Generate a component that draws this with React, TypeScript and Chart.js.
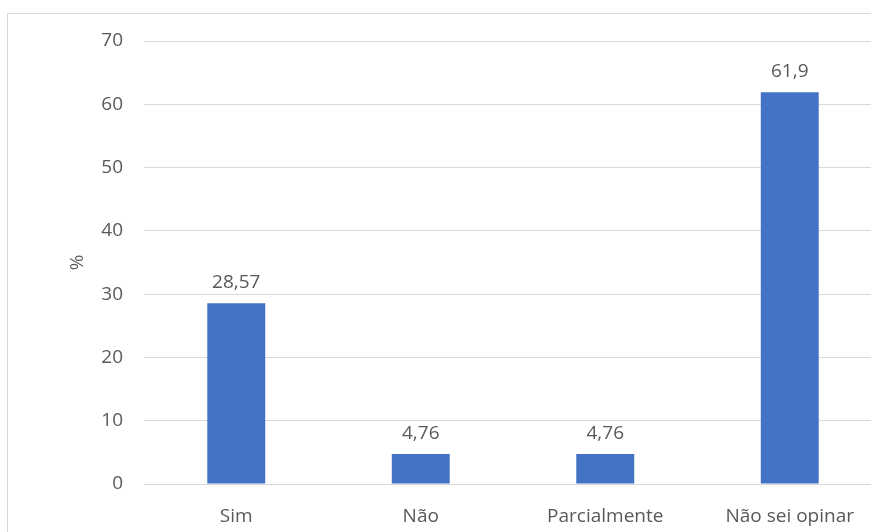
import React, { useEffect, useRef } from "react";
import { Chart, registerables } from "chart.js";

Chart.register(...registerables);

const categories = ["Sim", "Não", "Parcialmente", "Não sei opinar"];
const values = [28.57, 4.76, 4.76, 61.9];
const valueLabels = ["28,57", "4,76", "4,76", "61,9"];
const yTitle = "%";

const FONT = "'Open Sans', 'Noto Sans', sans-serif";
const TEXT = "#595959";
const FS = 19;

export default function App() {
  const ref = useRef<HTMLCanvasElement | null>(null);

  useEffect(() => {
    if (!ref.current) return;
    const labelsPlugin = {
      id: "valueLabels",
      afterDatasetsDraw(chart: any) {
        const ctx = chart.ctx;
        const meta = chart.getDatasetMeta(0);
        ctx.save();
        ctx.fillStyle = TEXT;
        ctx.font = `${FS}px ${FONT}`;
        ctx.textAlign = "center";
        ctx.textBaseline = "alphabetic";
        meta.data.forEach((bar: any, i: number) => {
          ctx.fillText(valueLabels[i], bar.x, bar.y - 15);
        });
        // y axis title
        const ca = chart.chartArea;
        ctx.translate(78, (ca.top + ca.bottom) / 2);
        ctx.rotate(-Math.PI / 2);
        ctx.textBaseline = "middle";
        ctx.fillText(yTitle, 0, 0);
        ctx.restore();
      },
    };

    const chart = new Chart(ref.current, {
      type: "bar",
      data: {
        labels: categories,
        datasets: [
          {
            data: values,
            backgroundColor: "#4472C4",
            barPercentage: 0.628,
            categoryPercentage: 0.5,
          },
        ],
      },
      options: {
        animation: false,
        responsive: false,
        maintainAspectRatio: false,
        layout: { padding: { left: 0, top: 41, right: 18, bottom: 0 } },
        plugins: { legend: { display: false }, tooltip: { enabled: false } },
        scales: {
          x: {
            grid: { display: false },
            border: { display: true, color: "#d9d9d9", width: 1 },
            ticks: { color: TEXT, font: { family: FONT, size: FS }, padding: 13 },
            afterFit: (s: any) => {
              s.height = 48;
            },
          },
          y: {
            min: 0,
            max: 70,
            ticks: { stepSize: 10, color: TEXT, font: { family: FONT, size: FS }, padding: 21 },
            grid: { color: "#d9d9d9", drawTicks: false, lineWidth: 1 },
            border: { display: false },
            afterFit: (s: any) => {
              s.width = 144;
            },
          },
        },
      },
      plugins: [labelsPlugin],
    });
    return () => chart.destroy();
  }, []);

  return (
    <div
      style={{
        position: "fixed",
        left: 0,
        top: 0,
        width: 871,
        height: 532,
        overflow: "hidden",
        background: "#fff",
      }}
    >
      <div
        style={{
          position: "absolute",
          left: 7,
          top: 13,
          width: 900,
          height: 600,
          border: "1px solid #d9d9d9",
        }}
      />
      <canvas
        ref={ref}
        width={900}
        height={532}
        style={{ position: "absolute", left: 0, top: 0, width: 900, height: 532 }}
      />
    </div>
  );
}
